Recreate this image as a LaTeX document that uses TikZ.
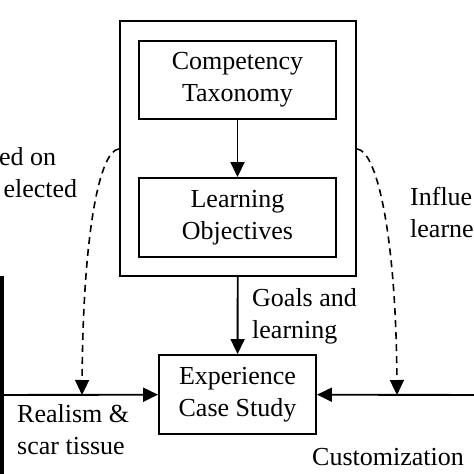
\documentclass[tikz,border=0pt]{standalone}
\usepackage{fontspec}
\setmainfont{Liberation Serif}
\usepackage{tikz}
\usetikzlibrary{arrows.meta}

\tikzset{
	>={Triangle[length=15pt, width=14pt]},
	stagebox/.style={draw, line width=1.9pt, align=center, inner sep=0pt},
	flowtext/.style={align=left, inner sep=0pt}
}

\begin{document}
\begin{tikzpicture}[x=1pt, y=-1pt, font=\fontsize{26}{32}\selectfont]
	\useasboundingbox (0,0) rectangle (474,474);
	\clip (0,0) rectangle (474,474);

	\node[stagebox, minimum width=236pt, minimum height=255pt] (frame) at (238,148.5) {};
	\node[stagebox, minimum width=197pt, minimum height=78pt] (taxonomy) at (237.5,80) {Competency\\Taxonomy};
	\node[stagebox, minimum width=197pt, minimum height=79pt] (objectives) at (237.5,217.5) {Learning\\Objectives};
	\node[stagebox, minimum width=157pt, minimum height=79pt] (casestudy) at (237.5,394.5) {Experience\\Case Study};

	\coordinate (leftend) at (2,395);
	\coordinate (rightend) at (476,395);
	\coordinate (lefthit) at (82,395);
	\coordinate (righthit) at (397,395);
	\coordinate (leftstart) at (119,149);
	\coordinate (rightstart) at (357,149);

	\draw[line width=3.5pt] (2,276) -- (2,476);

	\draw[->, line width=1.9pt] (taxonomy) -- (objectives);
	\draw[->, line width=1.9pt] (frame) -- (casestudy);
	\draw[->, line width=1.9pt] (leftend) -- (casestudy);
	\draw[->, line width=1.9pt] (rightend) -- (casestudy);

	\draw[->, line width=1.6pt, dash pattern=on 7pt off 5pt] (leftstart) .. controls (100,150) and (83,230) .. (lefthit);
	\draw[->, line width=1.6pt, dash pattern=on 7pt off 5pt] (rightstart) .. controls (376,150) and (396,230) .. (righthit);

	\node[flowtext, anchor=west] (goals) at (252,316) {Goals and\\learning};
	\node[flowtext, anchor=west] (realism) at (17,430) {Realism \&\\scar tissue};
	\node[flowtext, anchor=base west] (custom) at (312,465) {Customization};
	\node[flowtext, anchor=west] (based) at (-1,172.5) {ed on\\\,elected};
	\node[flowtext, anchor=west] (influence) at (410,212.5) {Influe\\learne};
\end{tikzpicture}
\end{document}
